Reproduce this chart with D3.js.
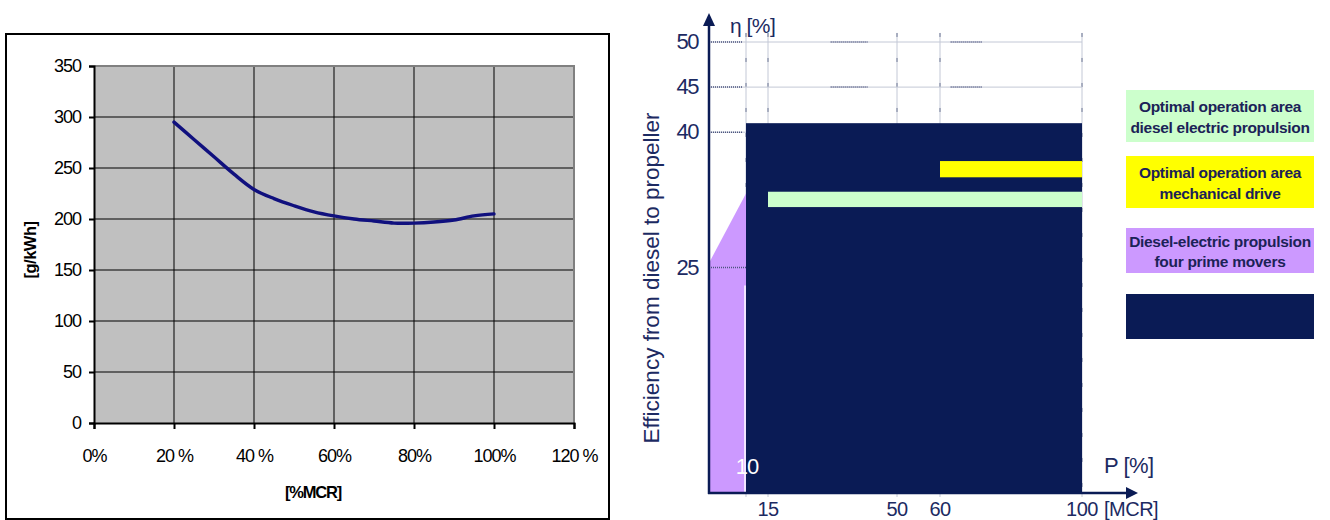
<!DOCTYPE html>
<html>
<head>
<meta charset="utf-8">
<script src="https://cdn.jsdelivr.net/npm/d3@7/dist/d3.min.js"></script>
<style>
  html, body { margin: 0; padding: 0; background: #fff; }
  svg { display: block; font-family: "Liberation Sans", Arial, sans-serif; }
</style>
</head>
<body>
<svg id="chart" width="1330" height="520"></svg>
<script>
// ---------- Left chart data ----------
const loadTicks = [0, 20, 40, 60, 80, 100, 120];
const loadTickLabels = ["0%", "20 %", "40 %", "60%", "80%", "100%", "120 %"];
const sfcTicks = [0, 50, 100, 150, 200, 250, 300, 350];
const loadPct = [20, 25, 30, 35, 40, 45, 50, 55, 60, 65, 70, 75, 80, 85, 90, 95, 100];
const sfcValues = [295, 278, 261, 244, 229, 220, 213, 207, 203, 200, 198, 196, 196, 197, 199, 203, 205];

// ---------- Right chart data ----------
const powerTicks = [10, 15, 50, 60, 100];
const powerTickLabels = ["15", "50", "60", "100"];
const powerLabelValues = [15, 50, 60, 100];
const etaTicks = [25, 40, 45, 50];
const etaTickLabels = ["25", "40", "45", "50"];
// areas: [x0, x1, y0, y1] in (P %, eta %)
const mechDriveArea = [10, 100, 0, 41];            // navy block
const optDieselElectric = [15, 100, 31.7, 33.4];   // green bar
const optMechanical = [60, 100, 35, 36.8];         // yellow bar
// purple polygon (P, eta)
const fourPrimeMovers = [[0, 0], [0, 25.5], [10, 33.2], [10, 0]];
// legend
const legendLabels = [
  ["Optimal operation area", "diesel electric propulsion"],
  ["Optimal operation area", "mechanical drive"],
  ["Diesel-electric propulsion", "four prime movers"],
  []
];
const legendColors = ["#ccffcc", "#ffff00", "#cc99ff", "#0a1b55"];

const svg = d3.select("#chart");

// ================= LEFT CHART =================
const L = { left: 94, right: 574, top: 66, bottom: 423 };
svg.append("rect").attr("x", 6).attr("y", 34).attr("width", 603).attr("height", 485)
  .attr("fill", "#fff").attr("stroke", "#000").attr("stroke-width", 2);

const xL = d3.scaleLinear().domain([0, 120]).range([L.left, L.right]);
const yL = d3.scaleLinear().domain([0, 350]).range([L.bottom, L.top]);

svg.append("rect").attr("x", L.left).attr("y", L.top)
  .attr("width", L.right - L.left).attr("height", L.bottom - L.top).attr("fill", "#c0c0c0");

const gl = svg.append("g");
gl.selectAll("line.h").data(sfcTicks.filter(d => d > 0 && d < 350)).join("line")
  .attr("x1", L.left).attr("x2", L.right).attr("y1", d => yL(d)).attr("y2", d => yL(d))
  .attr("stroke", "#000").attr("stroke-width", 1);
gl.selectAll("line.v").data(loadTicks.filter(d => d > 0 && d < 120)).join("line")
  .attr("x1", d => xL(d)).attr("x2", d => xL(d)).attr("y1", L.top).attr("y2", L.bottom)
  .attr("stroke", "#000").attr("stroke-width", 1);
gl.append("path").attr("d", `M${L.left},${L.top}H${L.right}V${L.bottom}`)
  .attr("fill", "none").attr("stroke", "#808080").attr("stroke-width", 2);

const yAxisL = d3.axisLeft(yL).tickValues(sfcTicks).tickSize(5).tickFormat(d3.format("d"));
const gyL = svg.append("g").attr("transform", `translate(${L.left},0)`).call(yAxisL);
gyL.select(".domain").attr("stroke", "#000").attr("stroke-width", 2);
gyL.selectAll(".tick line").attr("stroke", "#000").attr("stroke-width", 2);
gyL.selectAll(".tick text").attr("font-size", 18).attr("fill", "#000")
  .attr("letter-spacing", -1).attr("x", -13);

const xAxisL = d3.axisBottom(xL).tickValues(loadTicks).tickSize(6)
  .tickFormat((d, i) => loadTickLabels[i]);
const gxL = svg.append("g").attr("transform", `translate(0,${L.bottom})`).call(xAxisL);
gxL.select(".domain").attr("stroke", "#000").attr("stroke-width", 2);
gxL.selectAll(".tick line").attr("stroke", "#000").attr("stroke-width", 2);
gxL.selectAll(".tick text").attr("font-size", 18).attr("fill", "#000")
  .attr("letter-spacing", -1).attr("dy", null).attr("y", 39);

const lineL = d3.line().x((d, i) => xL(loadPct[i])).y(d => yL(d)).curve(d3.curveCatmullRom);
svg.append("path").datum(sfcValues).attr("d", lineL)
  .attr("fill", "none").attr("stroke", "#10107e").attr("stroke-width", 3.4)
  .attr("stroke-linecap", "round");

svg.append("text").attr("x", 313).attr("y", 498)
  .attr("text-anchor", "middle").attr("font-weight", "bold").attr("font-size", 16.5)
  .attr("letter-spacing", -1.2).text("[%MCR]");
svg.append("text").attr("transform", `translate(36,250) rotate(-90)`)
  .attr("text-anchor", "middle").attr("font-weight", "bold").attr("font-size", 16.5)
  .attr("letter-spacing", -0.5).text("[g/kWh]");

// ================= RIGHT CHART =================
const navy = "#0a1b55";
const txt = "#1c2a62";
const xR = d3.scaleLinear().domain([0, 10, 15, 50, 60, 100]).range([709, 746, 768, 897, 940, 1082]);
const yR = d3.scaleLinear().domain([0, 50]).range([493, 42]);

const gr = svg.append("g");
powerTicks.forEach(v => {
  gr.append("line").attr("x1", xR(v)).attr("x2", xR(v)).attr("y1", yR(51)).attr("y2", yR(0) + 4)
    .attr("stroke", "#c3c8d6").attr("stroke-width", 1);
  gr.append("line").attr("x1", xR(v)).attr("x2", xR(v)).attr("y1", yR(51)).attr("y2", yR(0))
    .attr("stroke", "#6f7895").attr("stroke-width", 1).attr("stroke-dasharray", "4,21");
});
const dotSegs = [[0, 9], [32, 42], [63, 72]];
etaTicks.forEach(v => {
  gr.append("line").attr("x1", xR(0)).attr("x2", xR(100)).attr("y1", yR(v)).attr("y2", yR(v))
    .attr("stroke", "#c3c8d6").attr("stroke-width", 1);
  dotSegs.forEach(s => {
    gr.append("line").attr("x1", xR(s[0])).attr("x2", xR(s[1])).attr("y1", yR(v)).attr("y2", yR(v))
      .attr("stroke", "#4d5680").attr("stroke-width", 1.5).attr("stroke-dasharray", "1,1");
  });
});

gr.append("polygon").attr("points", fourPrimeMovers.map(p => [xR(p[0]), yR(p[1])].join(",")).join(" "))
  .attr("fill", "#cc99ff");
gr.append("line").attr("x1", xR(0)).attr("x2", xR(10)).attr("y1", yR(25)).attr("y2", yR(25))
  .attr("stroke", "#4d5680").attr("stroke-width", 1.5).attr("stroke-dasharray", "1,1");

function areaRect(a, color) {
  gr.append("rect").attr("x", xR(a[0])).attr("y", yR(a[3]))
    .attr("width", xR(a[1]) - xR(a[0])).attr("height", yR(a[2]) - yR(a[3])).attr("fill", color);
}
areaRect(mechDriveArea, navy);
areaRect(optDieselElectric, "#ccffcc");
areaRect(optMechanical, "#ffff00");
gr.append("line").attr("x1", xR(10) - 1).attr("x2", xR(10) - 1).attr("y1", yR(23)).attr("y2", yR(0))
  .attr("stroke", "#fff").attr("stroke-width", 1.5);

gr.append("line").attr("x1", xR(0)).attr("x2", xR(0)).attr("y1", yR(0) + 1).attr("y2", 24)
  .attr("stroke", navy).attr("stroke-width", 2.5);
gr.append("path").attr("d", `M${xR(0)},13L${xR(0) - 6},26L${xR(0) + 6},26Z`).attr("fill", navy);
gr.append("line").attr("x1", xR(0) - 1).attr("x2", 1128).attr("y1", yR(0)).attr("y2", yR(0))
  .attr("stroke", navy).attr("stroke-width", 2.5);
gr.append("path").attr("d", `M1138,${yR(0)}L1126,${yR(0) - 6}L1126,${yR(0) + 6}Z`).attr("fill", navy);

gr.selectAll("text.yt").data(etaTicks).join("text")
  .attr("x", 698).attr("y", d => yR(d) + 7).attr("text-anchor", "end")
  .attr("font-size", 22).attr("letter-spacing", -1.5).attr("fill", txt)
  .text((d, i) => etaTickLabels[i]);
gr.selectAll("text.xt").data(powerLabelValues).join("text")
  .attr("x", d => xR(d)).attr("y", 516).attr("text-anchor", "middle")
  .attr("font-size", 20).attr("letter-spacing", -0.5).attr("fill", txt)
  .text((d, i) => powerTickLabels[i]);
gr.append("text").attr("x", xR(100) + 22).attr("y", 516)
  .attr("font-size", 20).attr("letter-spacing", -0.5).attr("fill", txt).text("[MCR]");
gr.append("text").attr("x", xR(10) + 1).attr("y", 474).attr("text-anchor", "middle")
  .attr("font-size", 22).attr("letter-spacing", -1).attr("fill", "#fff").text("10");
gr.append("text").attr("x", 730).attr("y", 33).attr("font-size", 21).attr("fill", txt)
  .attr("letter-spacing", -0.5).text("η [%]");
gr.append("text").attr("x", 1104).attr("y", 473).attr("font-size", 22).attr("fill", txt)
  .attr("letter-spacing", -0.5).text("P [%]");
gr.append("text").attr("transform", "translate(659,278) rotate(-90)")
  .attr("text-anchor", "middle").attr("font-size", 22.5).attr("fill", txt)
  .text("Efficiency from diesel to propeller");

const legendY = [90, 156, 228, 294];
const legendH = [52, 52, 45, 45];
const lg = svg.append("g");
legendLabels.forEach((lines, i) => {
  lg.append("rect").attr("x", 1126).attr("y", legendY[i]).attr("width", 188).attr("height", legendH[i])
    .attr("fill", legendColors[i]);
  lines.forEach((t, j) => {
    lg.append("text").attr("x", 1220).attr("y", legendY[i] + legendH[i] / 2 + (j === 0 ? -4 : 16.5))
      .attr("text-anchor", "middle").attr("font-size", 15.5).attr("font-weight", "bold")
      .attr("letter-spacing", -0.3).attr("fill", "#1b2257").text(t);
  });
});
</script>
</body>
</html>
